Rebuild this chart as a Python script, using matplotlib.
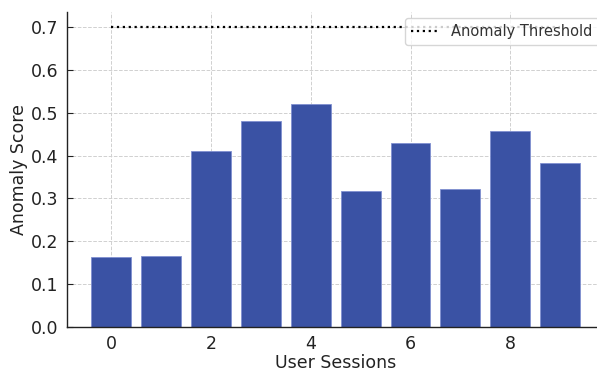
import matplotlib
matplotlib.use("Agg")
import matplotlib.pyplot as plt
import numpy as np

sessions = list(range(10))
scores = [0.163, 0.166, 0.410, 0.480, 0.521, 0.317, 0.429, 0.321, 0.457, 0.383]
threshold = 0.7
threshold_x = [0, 9]

fig = plt.figure(figsize=(5.97, 3.71), dpi=100)
ax = fig.add_axes([67/597, 44/371, (604.5-67)/597, (327-12)/371])

ax.bar(sessions, scores, width=0.8, color='#3a52a4', edgecolor='#8090d0', linewidth=0.6, zorder=2)
ax.plot(threshold_x, [threshold, threshold], color='black', linestyle=':', linewidth=1.6,
        label='Anomaly Threshold', zorder=3)

ax.set_xlim(-0.89, 9.89)
ax.set_ylim(0, 0.735)
ax.set_xticks([0, 2, 4, 6, 8])
ax.set_yticks(np.arange(0, 0.71, 0.1))
ax.set_yticklabels([f"{v:.1f}" for v in np.arange(0, 0.71, 0.1)])
ax.grid(True, linestyle='--', color='#d0d0d0', linewidth=0.7, zorder=0)
ax.set_axisbelow(True)
for s in ['top', 'right']:
    ax.spines[s].set_visible(False)
for s in ['left', 'bottom']:
    ax.spines[s].set_color('#222222')
    ax.spines[s].set_linewidth(1.0)
ax.tick_params(direction='in', length=4, labelsize=12.5, colors='#222222', pad=6)
ax.set_xlabel('User Sessions', fontsize=12.5, color='#222222', labelpad=0.5)
ax.set_ylabel('Anomaly Score', fontsize=12.5, color='#222222', labelpad=2)
leg = ax.legend(loc='upper right', fontsize=10.5, frameon=True, borderaxespad=0.4)
leg.get_frame().set_edgecolor('#cccccc')
for t in leg.get_texts():
    t.set_color('#333333')

fig.savefig('out.png', dpi=100)
